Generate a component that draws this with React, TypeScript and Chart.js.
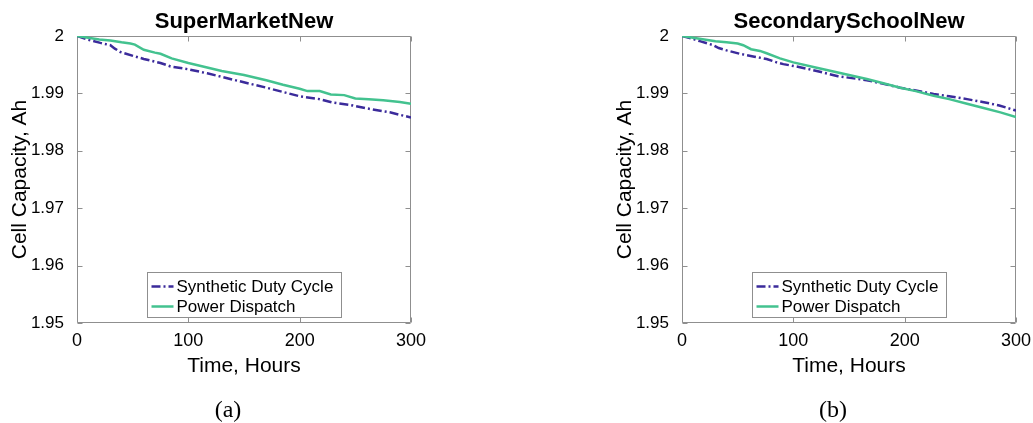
import React, { useEffect, useRef } from "react";
import { Chart, registerables } from "chart.js";

Chart.register(...registerables);

// ---- data -------------------------------------------------------------

const seriesLabels = ["Synthetic Duty Cycle", "Power Dispatch"];
const xTickValues = [0, 100, 200, 300];
const yTickValues = [1.95, 1.96, 1.97, 1.98, 1.99, 2];

// SuperMarketNew
const superMarketSyntheticHours = [0, 9, 21, 30, 34, 39, 51, 60, 75, 84, 100, 117, 140, 170, 200, 218, 230, 245, 260, 281, 300];
const superMarketSyntheticAh = [2.0, 1.9994, 1.9988, 1.9984, 1.9978, 1.9972, 1.9965, 1.996, 1.9953, 1.9947, 1.9942, 1.9935, 1.9924, 1.991, 1.9895, 1.989, 1.9884, 1.988, 1.9874, 1.9867, 1.9858];

const superMarketDispatchHours = [0, 10, 20, 30, 40, 48, 52, 60, 70, 75, 85, 100, 115, 130, 150, 170, 185, 200, 207, 218, 228, 240, 250, 262, 275, 290, 300];
const superMarketDispatchAh = [2.0, 1.9997, 1.9994, 1.9992, 1.9989, 1.9987, 1.9985, 1.9976, 1.9971, 1.9969, 1.9961, 1.9953, 1.9946, 1.9939, 1.9932, 1.9923, 1.9915, 1.9908, 1.9904, 1.9904, 1.9898, 1.9897, 1.9891, 1.989, 1.9888, 1.9885, 1.9882];

// SecondarySchoolNew
const schoolSyntheticHours = [0, 8, 16, 28, 33, 40, 52, 65, 76, 85, 91, 105, 121, 140, 166, 180, 196, 210, 226, 240, 256, 270, 285, 300];
const schoolSyntheticAh = [2.0, 1.9996, 1.9991, 1.9984, 1.9979, 1.9975, 1.9969, 1.9964, 1.996, 1.9954, 1.9951, 1.9946, 1.9939, 1.993, 1.9923, 1.9917, 1.991, 1.9905, 1.9899, 1.9895, 1.989, 1.9885, 1.9879, 1.987];

const schoolDispatchHours = [0, 10, 20, 30, 40, 50, 55, 62, 70, 76, 88, 100, 120, 136, 150, 166, 180, 196, 210, 226, 240, 256, 270, 286, 300];
const schoolDispatchAh = [2.0, 1.9997, 1.9994, 1.9991, 1.9989, 1.9987, 1.9984, 1.9977, 1.9974, 1.997, 1.9961, 1.9954, 1.9945, 1.9938, 1.9932, 1.9925, 1.9918, 1.991, 1.9904, 1.9896, 1.989, 1.9882, 1.9875, 1.9867, 1.9859];

// ---- styling ----------------------------------------------------------

const SANS = "'Liberation Sans', Arial, Helvetica, sans-serif";
const SERIF = "'Liberation Serif', 'Times New Roman', serif";
const BLUE = "#3b2b9b";
const GREEN = "#43c28f";
const FRAME = "#8f8f8f";
const DASH_DOT = [9, 3, 2, 3];

// The canvas is symmetric around the plot area so the centred title sits over it.
const CANVAS_W = 488;
const CANVAS_H = 423;
const SIDE_W = 77;

const toPoints = (xs: number[], ys: number[]) => xs.map((x, i) => ({ x, y: ys[i] }));

// Box around the plot area with inward-pointing ticks on all four sides.
const framePlugin = {
  id: "frameBox",
  beforeDatasetsDraw(chart: any) {
    const { ctx, chartArea: a, scales } = chart;
    const L = Math.round(a.left) + 0.5;
    const R = Math.round(a.right) - 0.5;
    const T = Math.round(a.top) + 0.5;
    const B = Math.round(a.bottom) - 0.5;
    const len = 5;
    ctx.save();
    ctx.strokeStyle = FRAME;
    ctx.lineWidth = 1;
    ctx.beginPath();
    ctx.rect(L, T, R - L, B - T);
    for (const t of scales.x.ticks) {
      const px = Math.round(scales.x.getPixelForValue(t.value)) + 0.5;
      ctx.moveTo(px, B);
      ctx.lineTo(px, B - len);
      ctx.moveTo(px, T);
      ctx.lineTo(px, T + len);
    }
    for (const t of scales.y.ticks) {
      const py = Math.round(scales.y.getPixelForValue(t.value)) + 0.5;
      ctx.moveTo(L, py);
      ctx.lineTo(L + len, py);
      ctx.moveTo(R, py);
      ctx.lineTo(R - len, py);
    }
    ctx.stroke();
    ctx.restore();
  },
};

// Boxed legend placed at the bottom centre of the plot area.
const legendPlugin = {
  id: "boxLegend",
  afterDraw(chart: any) {
    const { ctx, chartArea: a } = chart;
    const datasets = chart.data.datasets;
    ctx.save();
    ctx.font = `17px ${SANS}`;
    const textW = Math.max(...datasets.map((d: any) => ctx.measureText(d.label).width));
    const padL = 4;
    const lineLen = 22;
    const gap = 3;
    const padR = 8;
    const w = Math.round(padL + lineLen + gap + textW + padR);
    const h = 45;
    const cx = (a.left + a.right) / 2;
    const left = Math.round(cx - w / 2) + 0.5;
    const top = Math.round(a.bottom - 6 - h) + 0.5;
    ctx.fillStyle = "#ffffff";
    ctx.fillRect(left, top, w, h);
    ctx.strokeStyle = FRAME;
    ctx.lineWidth = 1;
    ctx.strokeRect(left, top, w, h);
    datasets.forEach((d: any, i: number) => {
      const y = top + 14 + i * 20;
      ctx.beginPath();
      ctx.strokeStyle = d.borderColor;
      ctx.lineWidth = d.borderWidth;
      ctx.setLineDash(d.borderDash || []);
      ctx.moveTo(left + padL, y);
      ctx.lineTo(left + padL + lineLen, y);
      ctx.stroke();
      ctx.setLineDash([]);
      ctx.fillStyle = "#000000";
      ctx.textBaseline = "middle";
      ctx.textAlign = "left";
      ctx.fillText(d.label, left + padL + lineLen + gap, y + 1);
    });
    ctx.restore();
  },
};

type PanelProps = {
  title: string;
  syntheticHours: number[];
  syntheticAh: number[];
  dispatchHours: number[];
  dispatchAh: number[];
  left: number;
};

function CapacityPanel(props: PanelProps) {
  const ref = useRef<HTMLCanvasElement | null>(null);

  useEffect(() => {
    if (!ref.current) return;
    const chart = new Chart(ref.current, {
      type: "line",
      data: {
        datasets: [
          {
            label: seriesLabels[0],
            data: toPoints(props.syntheticHours, props.syntheticAh),
            borderColor: BLUE,
            backgroundColor: BLUE,
            borderWidth: 2.5,
            borderDash: DASH_DOT,
            pointRadius: 0,
            tension: 0,
            fill: false,
            order: 1,
          },
          {
            label: seriesLabels[1],
            data: toPoints(props.dispatchHours, props.dispatchAh),
            borderColor: GREEN,
            backgroundColor: GREEN,
            borderWidth: 2.5,
            pointRadius: 0,
            tension: 0,
            fill: false,
            order: 0,
          },
        ],
      },
      options: {
        responsive: false,
        animation: false,
        events: [],
        layout: { padding: 0 },
        plugins: {
          legend: { display: false },
          tooltip: { enabled: false },
          title: {
            display: true,
            text: props.title,
            color: "#000",
            font: { family: SANS, size: 22, weight: "bold" },
            padding: { top: 8.8, bottom: 0.8 },
          },
        },
        scales: {
          x: {
            type: "linear",
            min: xTickValues[0],
            max: xTickValues[xTickValues.length - 1],
            afterBuildTicks: (s: any) => {
              s.ticks = xTickValues.map((v) => ({ value: v }));
            },
            afterFit: (s: any) => {
              s.height = 100;
            },
            grid: { display: false, drawTicks: false },
            border: { display: false },
            ticks: {
              color: "#000",
              font: { family: SANS, size: 18 },
              padding: 7,
              maxRotation: 0,
              autoSkip: false,
              callback: (v: any) => String(v),
            },
            title: {
              display: true,
              text: "Time, Hours",
              color: "#000",
              font: { family: SANS, size: 21 },
              padding: { top: 0, bottom: 44.4 },
            },
          },
          y: {
            type: "linear",
            position: "left",
            min: yTickValues[0],
            max: yTickValues[yTickValues.length - 1],
            afterBuildTicks: (s: any) => {
              s.ticks = yTickValues.map((v) => ({ value: v }));
            },
            afterFit: (s: any) => {
              s.width = SIDE_W;
            },
            grid: { display: false, drawTicks: false },
            border: { display: false },
            ticks: {
              color: "#000",
              font: { family: SANS, size: 17 },
              padding: 13,
              autoSkip: false,
              callback: (v: any) => String(Number(Number(v).toFixed(2))),
            },
            title: {
              display: true,
              text: "Cell Capacity, Ah",
              color: "#000",
              font: { family: SANS, size: 21 },
              padding: { top: 7.4, bottom: 0 },
            },
          },
          // Empty right-hand margin that balances the y axis on the left.
          ySpacer: {
            type: "linear",
            position: "right",
            afterFit: (s: any) => {
              s.width = SIDE_W;
            },
            grid: { display: false, drawTicks: false },
            border: { display: false },
            ticks: { display: false },
            title: { display: false },
          },
        },
      } as any,
      plugins: [framePlugin, legendPlugin],
    });
    return () => chart.destroy();
  }, []);

  return (
    <div style={{ position: "absolute", left: props.left, top: 0, width: CANVAS_W, height: CANVAS_H }}>
      <canvas ref={ref} width={CANVAS_W} height={CANVAS_H} style={{ width: CANVAS_W, height: CANVAS_H, display: "block" }} />
    </div>
  );
}

const captionStyle = (centerX: number): React.CSSProperties => ({
  position: "absolute",
  left: centerX - 40,
  width: 80,
  top: 395,
  textAlign: "center",
  fontFamily: SERIF,
  fontSize: 24,
  lineHeight: "28px",
  color: "#000",
});

export default function App() {
  return (
    <div style={{ position: "absolute", left: 0, top: 0, width: 1033, height: 423, background: "#ffffff", overflow: "hidden" }}>
      <CapacityPanel
        title="SuperMarketNew"
        syntheticHours={superMarketSyntheticHours}
        syntheticAh={superMarketSyntheticAh}
        dispatchHours={superMarketDispatchHours}
        dispatchAh={superMarketDispatchAh}
        left={0}
      />
      <CapacityPanel
        title="SecondarySchoolNew"
        syntheticHours={schoolSyntheticHours}
        syntheticAh={schoolSyntheticAh}
        dispatchHours={schoolDispatchHours}
        dispatchAh={schoolDispatchAh}
        left={605}
      />
      <div style={captionStyle(228)}>(a)</div>
      <div style={captionStyle(833)}>(b)</div>
    </div>
  );
}
